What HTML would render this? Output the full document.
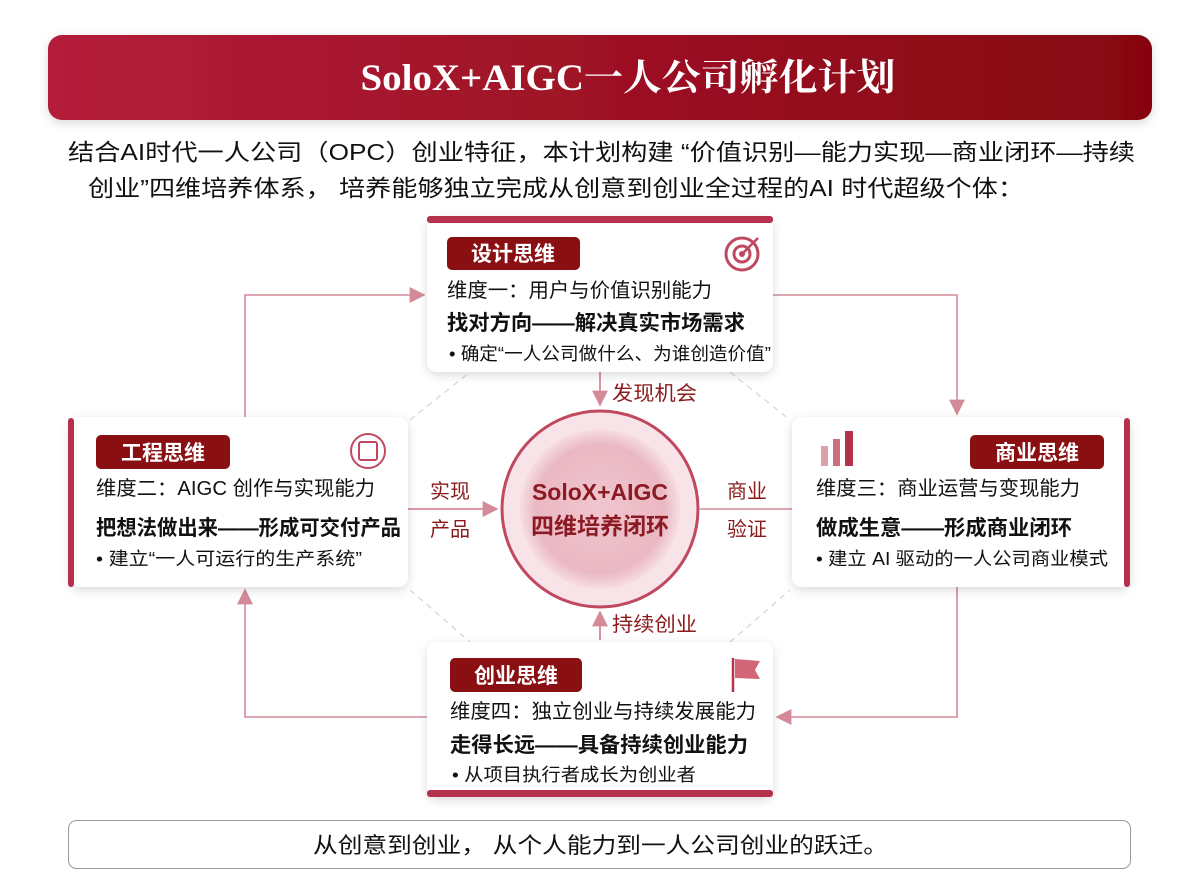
<!DOCTYPE html>
<html><head><meta charset="utf-8"><style>
html,body{margin:0;padding:0;background:#fff;}
svg{display:block;}
text{font-family:"Liberation Sans","Noto Sans CJK SC",sans-serif;}
</style></head><body>
<svg width="1200" height="896" viewBox="0 0 1200 896" xmlns="http://www.w3.org/2000/svg">
<defs>
<linearGradient id="tg" x1="0" x2="1" y1="0" y2="0"><stop offset="0" stop-color="#b41d3a"/><stop offset="1" stop-color="#860610"/></linearGradient>
<radialGradient id="cg" cx="0.5" cy="0.5" r="0.5"><stop offset="0" stop-color="#f0c6cf"/><stop offset="0.8" stop-color="#eab8c3"/><stop offset="1" stop-color="#f6dde2"/></radialGradient>
<filter id="sh" x="-10%" y="-10%" width="120%" height="130%"><feDropShadow dx="0" dy="3" stdDeviation="5" flood-color="#000" flood-opacity="0.15"/></filter>
<marker id="ah" viewBox="0 0 10 10" refX="9" refY="5" markerWidth="9" markerHeight="9" markerUnits="userSpaceOnUse" orient="auto"><path d="M0,0 L10,5 L0,10 z" fill="#d48a98"/></marker>
<marker id="ah2" viewBox="0 0 10 10" refX="9" refY="5" markerWidth="16" markerHeight="16" markerUnits="userSpaceOnUse" orient="auto"><path d="M0,0 L10,5 L0,10 z" fill="#d48a98"/></marker>
</defs>
<!-- title -->
<rect x="48" y="35" width="1104" height="85" rx="14" fill="url(#tg)" filter="url(#sh)"/>
<text x="628" y="90" text-anchor="middle" fill="#fff" font-size="37" font-weight="bold" style="font-family:'Liberation Serif','Noto Serif CJK SC',serif" textLength="535" lengthAdjust="spacingAndGlyphs">SoloX+AIGC一人公司孵化计划</text>
<!-- subtitle -->
<text x="68" y="160" font-size="23" fill="#111" textLength="1067" lengthAdjust="spacingAndGlyphs">结合AI时代一人公司（OPC）创业特征，本计划构建 “价值识别—能力实现—商业闭环—持续</text>
<text x="88" y="196" font-size="23" fill="#111" textLength="936" lengthAdjust="spacingAndGlyphs">创业”四维培养体系，    培养能够独立完成从创意到创业全过程的AI 时代超级个体：</text>
<!-- dashed octagon -->
<g stroke="#ccc" stroke-width="1" stroke-dasharray="6,5" fill="none">
<path d="M410,420 L470,372"/><path d="M730,372 L790,420"/><path d="M410,590 L470,642"/><path d="M730,642 L790,590"/>
</g>
<!-- outer loop -->
<g stroke="#d48a98" stroke-width="1.6" fill="none" marker-end="url(#ah2)">
<path d="M245,417 L245,295 L424,295"/>
<path d="M773,295 L957,295 L957,414"/>
<path d="M957,587 L957,717 L777,717"/>
<path d="M427,717 L245,717 L245,590"/>
</g>
<!-- inner arrows -->
<g stroke="#d48a98" stroke-width="1.8" fill="none" marker-end="url(#ah2)">
<path d="M600,372 L600,405"/>
<path d="M408,509 L497,509"/>
<path d="M600,640 L600,612"/>
</g>
<path d="M700,509 L792,509" stroke="#d48a98" stroke-width="1.6"/>
<g fill="#8b1a1a" font-size="20">
<text x="612" y="400" textLength="85" lengthAdjust="spacingAndGlyphs">发现机会</text>
<text x="612" y="631" textLength="85" lengthAdjust="spacingAndGlyphs">持续创业</text>
<text x="430" y="498">实现</text><text x="430" y="536">产品</text>
<text x="727" y="498">商业</text><text x="727" y="536">验证</text>
</g>
<!-- circle -->
<circle cx="600" cy="509" r="98" fill="#f8e4e8" stroke="#c0485f" stroke-width="3"/>
<circle cx="600" cy="509" r="80" fill="url(#cg)"/>
<text x="600" y="500" text-anchor="middle" font-size="23" font-weight="bold" fill="#8b1a22">SoloX+AIGC</text>
<text x="600" y="534" text-anchor="middle" font-size="23" font-weight="bold" fill="#8b1a22">四维培养闭环</text>
<!-- top card -->
<g filter="url(#sh)"><rect x="427" y="217" width="346" height="155" rx="10" fill="#fff"/></g>
<rect x="427" y="216" width="346" height="7" rx="3" fill="#b5324f"/>
<rect x="447" y="237" width="133" height="33" rx="5" fill="#8a0f12"/>
<text x="513" y="261" text-anchor="middle" fill="#fff" font-size="21" font-weight="bold">设计思维</text>
<g fill="none" stroke="#c0485f" stroke-width="3"><circle cx="742" cy="254" r="16"/><circle cx="742" cy="254" r="8"/></g>
<circle cx="742" cy="254" r="3" fill="#c0485f"/><path d="M742,254 L758,238" stroke="#c0485f" stroke-width="2.5"/>
<text x="447" y="297" font-size="20" fill="#111" textLength="265" lengthAdjust="spacingAndGlyphs">维度一：用户与价值识别能力</text>
<text x="447" y="330" font-size="21" font-weight="bold" fill="#111" textLength="298" lengthAdjust="spacingAndGlyphs">找对方向——解决真实市场需求</text>
<text x="449" y="360" font-size="18" fill="#111" textLength="322" lengthAdjust="spacingAndGlyphs">• 确定“一人公司做什么、为谁创造价值”</text>
<!-- left card -->
<g filter="url(#sh)"><rect x="70" y="417" width="338" height="170" rx="10" fill="#fff"/></g>
<rect x="68" y="418" width="6" height="169" rx="3" fill="#b5324f"/>
<rect x="96" y="435" width="134" height="34" rx="5" fill="#8a0f12"/>
<text x="163" y="460" text-anchor="middle" fill="#fff" font-size="21" font-weight="bold">工程思维</text>
<circle cx="368" cy="451" r="17" fill="none" stroke="#c0485f" stroke-width="2"/>
<rect x="359" y="442" width="18" height="18" rx="2" fill="none" stroke="#c0485f" stroke-width="2"/>
<text x="96" y="495" font-size="20" fill="#111" textLength="279" lengthAdjust="spacingAndGlyphs">维度二：AIGC 创作与实现能力</text>
<text x="96" y="535" font-size="21" font-weight="bold" fill="#111" textLength="305" lengthAdjust="spacingAndGlyphs">把想法做出来——形成可交付产品</text>
<text x="96" y="565" font-size="18" fill="#111" textLength="266" lengthAdjust="spacingAndGlyphs">• 建立“一人可运行的生产系统”</text>
<!-- right card -->
<g filter="url(#sh)"><rect x="792" y="417" width="338" height="170" rx="10" fill="#fff"/></g>
<rect x="1124" y="418" width="6" height="169" rx="3" fill="#b5324f"/>
<rect x="970" y="435" width="134" height="34" rx="5" fill="#8a0f12"/>
<text x="1037" y="460" text-anchor="middle" fill="#fff" font-size="21" font-weight="bold">商业思维</text>
<rect x="821" y="446" width="7" height="20" fill="#dba0ac"/><rect x="833" y="439" width="7" height="27" fill="#c9707f"/><rect x="845" y="431" width="8" height="35" fill="#b5324f"/>
<text x="816" y="495" font-size="20" fill="#111" textLength="264" lengthAdjust="spacingAndGlyphs">维度三：商业运营与变现能力</text>
<text x="816" y="535" font-size="21" font-weight="bold" fill="#111" textLength="256" lengthAdjust="spacingAndGlyphs">做成生意——形成商业闭环</text>
<text x="816" y="565" font-size="18" fill="#111" textLength="292" lengthAdjust="spacingAndGlyphs">• 建立 AI 驱动的一人公司商业模式</text>
<!-- bottom card -->
<g filter="url(#sh)"><rect x="427" y="642" width="346" height="155" rx="10" fill="#fff"/></g>
<rect x="427" y="790" width="346" height="7" rx="3" fill="#b5324f"/>
<rect x="450" y="658" width="132" height="34" rx="5" fill="#8a0f12"/>
<text x="516" y="683" text-anchor="middle" fill="#fff" font-size="21" font-weight="bold">创业思维</text>
<path d="M733,658 L733,692" stroke="#b5324f" stroke-width="2.5"/>
<path d="M735,659 L760,661 L755,670 L760,679 L735,678 z" fill="#d06677"/>
<text x="450" y="718" font-size="20" fill="#111" textLength="306" lengthAdjust="spacingAndGlyphs">维度四：独立创业与持续发展能力</text>
<text x="450" y="752" font-size="21" font-weight="bold" fill="#111" textLength="298" lengthAdjust="spacingAndGlyphs">走得长远——具备持续创业能力</text>
<text x="452" y="781" font-size="18" fill="#111" textLength="244" lengthAdjust="spacingAndGlyphs">• 从项目执行者成长为创业者</text>
<!-- footer -->
<rect x="68.5" y="820.5" width="1062" height="48" rx="8" fill="#fff" stroke="#999" stroke-width="1"/>
<text x="313" y="853" font-size="22" fill="#111" textLength="575" lengthAdjust="spacingAndGlyphs">从创意到创业， 从个人能力到一人公司创业的跃迁。</text>
</svg>
</body></html>
